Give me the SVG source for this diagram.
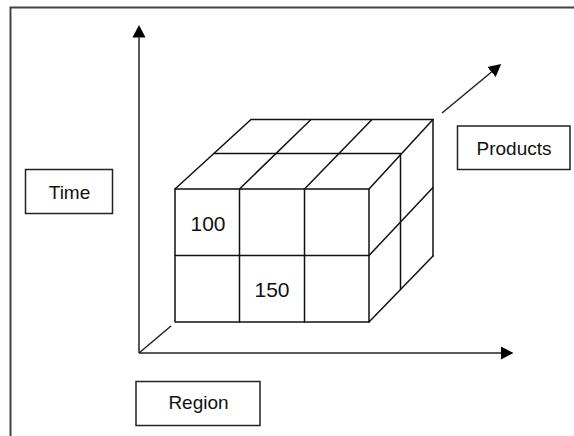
<svg xmlns="http://www.w3.org/2000/svg" width="574" height="436" viewBox="0 0 574 436">
<style>
.frame{fill:none;stroke:#444;stroke-width:2}
.box{fill:#fff;stroke:#222;stroke-width:1.5}
.ln{fill:none;stroke:#111;stroke-width:1.5;stroke-linecap:round;stroke-linejoin:round}
.ax{fill:none;stroke:#222;stroke-width:1.5}
.lbl{font-family:"Liberation Sans",Arial,sans-serif;font-size:19px;fill:#111;text-anchor:middle}
.num{font-family:"Liberation Sans",Arial,sans-serif;font-size:21px;fill:#111;text-anchor:middle}
</style>
<defs>
<marker id="arr" markerUnits="userSpaceOnUse" markerWidth="13" markerHeight="14" refX="0" refY="6.5" orient="auto" viewBox="0 0 13 13">
<path d="M0,0 L12.5,6.5 L0,13 Z" fill="#000"/>
</marker>
</defs>
<rect class="frame" x="10.5" y="7.5" width="600" height="460"/>
<g id="connectors">
<line class="ax" x1="139" y1="353" x2="139" y2="37.5" marker-end="url(#arr)"/>
<line class="ax" x1="139" y1="353" x2="501" y2="353" marker-end="url(#arr)"/>
<line class="ax" x1="442" y1="113" x2="491.5" y2="72" marker-end="url(#arr)"/>
<line class="ax" x1="139" y1="353" x2="171" y2="326"/>
</g>
<g id="cube">
<rect class="ln" x="175" y="189" width="194" height="133"/>
<line class="ln" x1="175" y1="255.5" x2="369" y2="255.5"/>
<line class="ln" x1="239.5" y1="189" x2="239.5" y2="322"/>
<line class="ln" x1="304.5" y1="189" x2="304.5" y2="322"/>
<line class="ln" x1="251" y1="119.5" x2="433" y2="119.5"/>
<line class="ln" x1="214.5" y1="153.5" x2="400.5" y2="153.5"/>
<line class="ln" x1="175" y1="189" x2="251" y2="119.5"/>
<line class="ln" x1="239.5" y1="189" x2="311" y2="119.5"/>
<line class="ln" x1="304.5" y1="189" x2="372" y2="119.5"/>
<line class="ln" x1="369" y1="189" x2="433" y2="119.5"/>
<line class="ln" x1="433" y1="119.5" x2="433" y2="256"/>
<line class="ln" x1="400.5" y1="153.5" x2="400.5" y2="289"/>
<line class="ln" x1="369" y1="255.5" x2="433" y2="187.5"/>
<line class="ln" x1="369" y1="322" x2="433" y2="256"/>
<text class="num" x="208" y="230.5">100</text>
<text class="num" x="272" y="296.5">150</text>
</g>
<g id="time">
<rect class="box" x="25.5" y="169.5" width="87" height="44"/>
<text class="lbl" x="69.5" y="198.5">Time</text>
</g>
<g id="products">
<rect class="box" x="457.5" y="126" width="112.5" height="43.5"/>
<text class="lbl" x="514" y="154.5">Products</text>
</g>
<g id="region">
<rect class="box" x="136" y="381.5" width="124" height="44"/>
<text class="lbl" x="198.5" y="409">Region</text>
</g>
</svg>
